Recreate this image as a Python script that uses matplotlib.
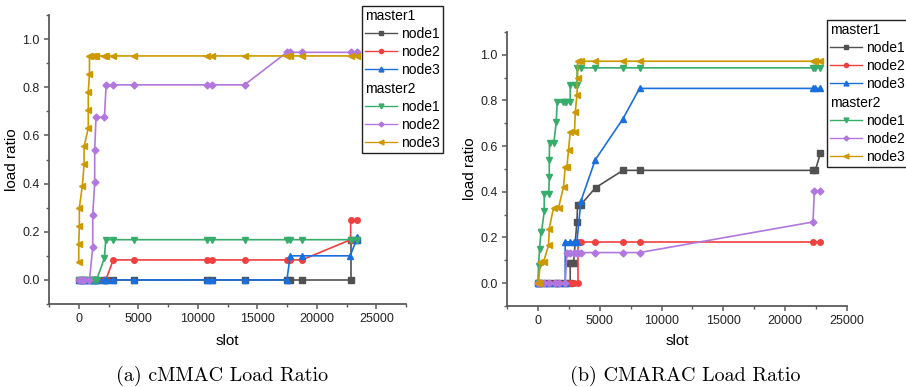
import matplotlib
matplotlib.use("Agg")
import matplotlib.pyplot as plt
from matplotlib.lines import Line2D
from matplotlib.text import Text
from matplotlib.legend_handler import HandlerBase
from matplotlib.ticker import MultipleLocator

plt.rcParams['font.family'] = ['Liberation Sans', 'DejaVu Sans']

# ---------------- data: (a) cMMAC ----------------
a_m1_node1_x = [0, 280, 450, 900, 1230, 1370, 1500, 2150, 2270, 2900, 4680, 10760, 11180, 13930, 17490, 17770, 18750, 22850, 22850, 23380]
a_m1_node1_y = [0, 0, 0, 0, 0, 0, 0, 0, 0, 0, 0, 0, 0, 0, 0, 0, 0, 0, 0.167, 0.167]

a_m1_node2_x = [0, 280, 450, 900, 1230, 1370, 1500, 2150, 2270, 2900, 4680, 10760, 11180, 13930, 17490, 17770, 18750, 22850, 22850, 23380]
a_m1_node2_y = [0, 0, 0, 0, 0, 0, 0, 0, 0, 0.083, 0.083, 0.083, 0.083, 0.083, 0.083, 0.083, 0.083, 0.167, 0.25, 0.25]

a_m1_node3_x = [0, 280, 450, 900, 1230, 1370, 1500, 2150, 2270, 2900, 4680, 10760, 11180, 13930, 17490, 17770, 18750, 22800, 23350, 23400]
a_m1_node3_y = [0, 0, 0, 0, 0, 0, 0, 0, 0, 0, 0, 0, 0, 0, 0, 0.1, 0.1, 0.1, 0.167, 0.18]

a_m2_node1_x = [0, 280, 450, 900, 1230, 1370, 1500, 2150, 2270, 2900, 4680, 10760, 11180, 13930, 17490, 17770, 18750, 22850, 23380]
a_m2_node1_y = [0, 0, 0, 0, 0, 0, 0, 0.09, 0.167, 0.167, 0.167, 0.167, 0.167, 0.167, 0.167, 0.167, 0.167, 0.167, 0.167]

a_m2_node2_x = [0, 280, 450, 900, 1175, 1175, 1340, 1340, 1450, 2160, 2300, 2900, 4680, 10760, 11180, 13930, 17490, 17770, 18750, 22850, 23380]
a_m2_node2_y = [0, 0, 0, 0, 0.135, 0.27, 0.405, 0.54, 0.675, 0.675, 0.81, 0.81, 0.81, 0.81, 0.81, 0.81, 0.945, 0.945, 0.945, 0.945, 0.945]

a_m2_node3_x = [0, 0, 50, 50, 300, 450, 450, 800, 800, 800, 900, 900, 950, 1230, 1370, 1450, 2150, 2270, 2900, 4680, 10760, 11180, 13930, 17490, 17770, 18750, 22850, 23380]
a_m2_node3_y = [0.075, 0.15, 0.225, 0.30, 0.39, 0.48, 0.555, 0.63, 0.705, 0.78, 0.855, 0.93, 0.93, 0.93, 0.93, 0.93, 0.93, 0.93, 0.93, 0.93, 0.93, 0.93, 0.93, 0.93, 0.93, 0.93, 0.93, 0.93]

# ---------------- data: (b) CMARAC ----------------
b_m1_node1_x = [0, 50, 455, 915, 1400, 1667, 2209, 2613, 2613, 2882, 3155, 3209, 3479, 4660, 6877, 8220, 22250, 22440, 22842]
b_m1_node1_y = [0, 0, 0, 0, 0, 0, 0, 0, 0.089, 0.089, 0.268, 0.344, 0.344, 0.418, 0.494, 0.494, 0.494, 0.494, 0.568]

b_m1_node2_x = [0, 50, 455, 915, 1400, 1667, 2209, 2613, 2882, 3209, 3209, 3479, 4636, 6877, 8220, 22250, 22780]
b_m1_node2_y = [0, 0, 0, 0, 0, 0, 0, 0, 0, 0, 0.181, 0.181, 0.181, 0.181, 0.181, 0.181, 0.181]

b_m1_node3_x = [0, 50, 455, 915, 1400, 1667, 2209, 2209, 2613, 2882, 3155, 3479, 4636, 6877, 8220, 22250, 22440, 22842]
b_m1_node3_y = [0, 0, 0, 0, 0, 0, 0, 0.181, 0.181, 0.181, 0.181, 0.36, 0.54, 0.72, 0.853, 0.853, 0.853, 0.853]

b_m2_node1_x = [0, 50, 130, 243, 290, 510, 510, 880, 920, 920, 938, 1290, 1480, 1560, 1996, 2211, 2292, 2613, 2613, 2967, 3155, 3180, 3479, 4636, 6877, 8220, 22250, 22440, 22842]
b_m2_node1_y = [0, 0.076, 0.15, 0.224, 0.224, 0.315, 0.392, 0.392, 0.464, 0.541, 0.614, 0.614, 0.704, 0.793, 0.793, 0.793, 0.793, 0.793, 0.869, 0.869, 0.869, 0.943, 0.943, 0.943, 0.943, 0.943, 0.943, 0.943, 0.943]

b_m2_node2_x = [0, 50, 455, 915, 1400, 1667, 2209, 2346, 2613, 2882, 3155, 3209, 3479, 4636, 6877, 8220, 22250, 22360, 22780]
b_m2_node2_y = [0, 0, 0, 0, 0, 0, 0, 0.134, 0.134, 0.134, 0.134, 0.134, 0.134, 0.134, 0.134, 0.134, 0.268, 0.404, 0.404]

b_m2_node3_x = [0, 50, 186, 455, 860, 915, 1262, 1667, 2071, 2211, 2350, 2477, 2613, 2963, 3020, 3155, 3209, 3209, 3478, 4636, 6877, 8220, 22250, 22440, 22842]
b_m2_node3_y = [0, 0, 0.093, 0.093, 0.166, 0.239, 0.33, 0.33, 0.421, 0.51, 0.51, 0.585, 0.66, 0.66, 0.749, 0.823, 0.898, 0.972, 0.972, 0.972, 0.972, 0.972, 0.972, 0.972, 0.972]

node_labels = ["node1", "node2", "node3"]
group_labels = ["master1", "master2"]
x_ticks = [0, 5000, 10000, 15000, 20000, 25000]
y_ticks = [0.0, 0.2, 0.4, 0.6, 0.8, 1.0]
captions = ["(a) cMMAC Load Ratio", "(b) CMARAC Load Ratio"]

colors = ["#515151", "#F14040", "#1A6FDF", "#37AD6B", "#B177DE", "#CC9900"]
markers = ["s", "o", "^", "v", "D", "<"]
msizes = [4, 4, 4.5, 4.5, 3.5, 4.5]

W, H = 906, 387
fig = plt.figure(figsize=(W / 100, H / 100), dpi=100)


class Header:
    def __init__(self, text):
        self.text = text


class HeaderHandler(HandlerBase):
    def create_artists(self, legend, orig_handle, xdescent, ydescent,
                       width, height, fontsize, trans):
        t = Text(-xdescent, (height - ydescent) / 2, orig_handle.text,
                 fontsize=fontsize, va="center_baseline", ha="left",
                 color="black", transform=trans)
        return [t]


def px_axes(l, t, r, b):
    return fig.add_axes([l / W, 1 - b / H, (r - l) / W, (b - t) / H])


def draw_panel(ax, series, xmax, leg_pos, top_px, bot_px, left_px, right_px):
    for i, (xs, ys) in enumerate(series):
        ax.plot(xs, ys, color=colors[i], marker=markers[i], ms=msizes[i],
                lw=1.2, mec=colors[i], mfc=colors[i], clip_on=False, zorder=3)
    ax.set_xlim(-2500, xmax)
    ax.set_ylim(-0.1, 1.1)
    ax.set_xticks(x_ticks)
    ax.set_xticklabels([str(v) for v in x_ticks])
    ax.set_yticks(y_ticks)
    ax.set_yticklabels([f"{v:.1f}" for v in y_ticks])
    ax.xaxis.set_minor_locator(MultipleLocator(2500))
    ax.yaxis.set_minor_locator(MultipleLocator(0.1))
    for s in ["top", "right"]:
        ax.spines[s].set_visible(False)
    for s in ["left", "bottom"]:
        ax.spines[s].set_color("#5a5a5a")
        ax.spines[s].set_linewidth(1.3)
    ax.tick_params(which="major", direction="out", length=3.6, width=1.1,
                   color="#5a5a5a", labelsize=9, labelcolor="#222222", pad=3)
    ax.tick_params(which="minor", direction="out", length=2.2, width=1.0,
                   color="#5a5a5a")
    ax.set_xlabel("slot", fontsize=11)
    ax.set_ylabel("load ratio", fontsize=11)
    hpx = bot_px - top_px
    wpx = right_px - left_px
    ax.xaxis.set_label_coords(0.5, -(334 - bot_px) / hpx)
    ax.yaxis.set_label_coords(-30 / wpx, 0.5)
    ax.xaxis.label.set_va("top")

    # legend with group headers
    handles, labels = [], []
    for g in range(2):
        handles.append(Header(group_labels[g]))
        labels.append(" ")
        for n in range(3):
            i = g * 3 + n
            handles.append(Line2D([], [], color=colors[i], marker=markers[i],
                                  ms=msizes[i] - 1, lw=1.0))
            labels.append(node_labels[n])
    fs = 10
    leg = fig.legend(handles, labels, loc="upper left",
                     bbox_to_anchor=leg_pos, bbox_transform=fig.transFigure,
                     handler_map={Header: HeaderHandler()},
                     fontsize=fs, frameon=True, fancybox=False,
                     edgecolor="#222222", framealpha=1, borderpad=0.2,
                     labelspacing=0.3, handlelength=2.3, handletextpad=0.3,
                     borderaxespad=0)
    leg.get_frame().set_linewidth(1.0)
    return leg


axa = px_axes(49, 15, 406, 304)
draw_panel(axa, [(a_m1_node1_x, a_m1_node1_y), (a_m1_node2_x, a_m1_node2_y),
                 (a_m1_node3_x, a_m1_node3_y), (a_m2_node1_x, a_m2_node1_y),
                 (a_m2_node2_x, a_m2_node2_y), (a_m2_node3_x, a_m2_node3_y)],
           27500, (362 / W, 1 - 6 / H), 15, 304, 49, 406)

axb = px_axes(507, 32, 847, 306)
draw_panel(axb, [(b_m1_node1_x, b_m1_node1_y), (b_m1_node2_x, b_m1_node2_y),
                 (b_m1_node3_x, b_m1_node3_y), (b_m2_node1_x, b_m2_node1_y),
                 (b_m2_node2_x, b_m2_node2_y), (b_m2_node3_x, b_m2_node3_y)],
           25000, (827 / W, 1 - 20 / H), 32, 306, 507, 847)

fig.text(222 / W, 1 - 376 / H, captions[0], family="cmr10", fontsize=14.4,
         ha="center", va="center")
fig.text(685 / W, 1 - 376 / H, captions[1], family="cmr10", fontsize=14.4,
         ha="center", va="center")

fig.savefig("out.png", dpi=100)
